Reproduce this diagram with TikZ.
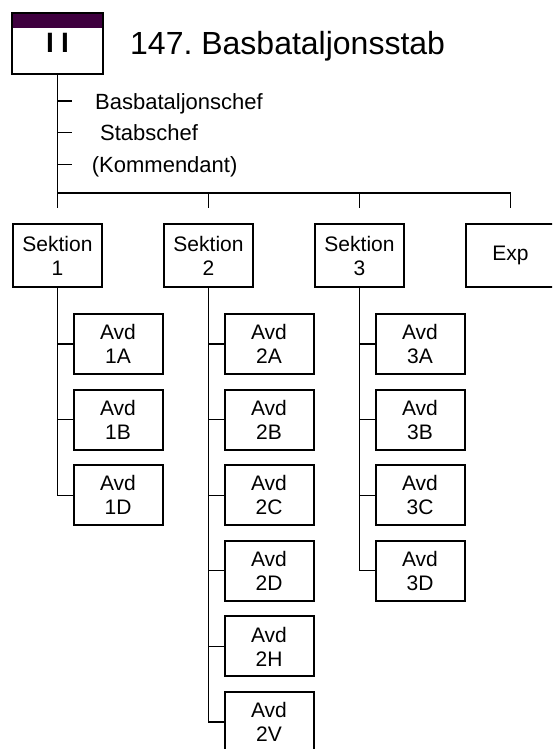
\documentclass[tikz,border=0pt]{standalone}
\usepackage{fontspec}
\setmainfont{Liberation Sans}
\frenchspacing
\usetikzlibrary{positioning,calc}
\definecolor{bandpurple}{HTML}{3F003F}
\tikzset{
  unitbox/.style  = {draw=black, line width=2pt, fill=white, align=center,
                     minimum width=89pt, minimum height=63pt, inner sep=0pt,
                     font=\fontsize{21}{24}\selectfont},
  avdbox/.style   = {unitbox, minimum height=60pt},
  link/.style     = {draw=black, line width=1.3pt},
  rolelabel/.style= {anchor=base west, inner sep=0pt, font=\fontsize{22}{24}\selectfont},
}
\begin{document}
\begin{tikzpicture}[x=1pt,y=-1pt]
  \useasboundingbox (0,0) rectangle (552,749);
  \clip (0,0) rectangle (552,749);
  % staff symbol and title
  \node[draw=black, line width=2pt, fill=white, anchor=north west,
        minimum width=91pt, minimum height=61pt, inner sep=0pt,
        path picture={\fill[bandpurple] (path picture bounding box.north west)
          rectangle ([yshift=-15pt]path picture bounding box.north east);}] (hq) at (11,12) {};
  \node[inner sep=0pt, font=\bfseries\fontsize{28}{28}\selectfont] (hqmark) at (57.5,42.5) {I\hspace{7pt}I};
  \node[anchor=base west, inner sep=0pt, font=\fontsize{32}{32}\selectfont] (title) at (130,54.3) {147. Basbataljonsstab};
  \coordinate (spine) at (57.5,193);
  \draw[link] (hq.south -| spine) -- (spine);
  % staff roles
  \foreach \ty/\tx/\by/\name/\txt in {101/95/110/chef/Basbataljonschef,
      132.7/100/140/stab/Stabschef, 164.3/91.7/172/kmd/(Kommendant)} {
    \coordinate (tick\name) at (72,\ty);
    \draw[link] (spine |- tick\name) -- (tick\name);
    \node[rolelabel] (role\name) at (\tx,\by) {\txt};
  }
  % sections
  \node[unitbox] (sek1) at (57.5,255.5) {Sektion\\1};
  \node[unitbox] (sek2) at (208.5,255.5) {Sektion\\2};
  \node[unitbox] (sek3) at (359.5,255.5) {Sektion\\3};
  \node[unitbox] (exp) at (510.5,255.5) {Exp};
  \draw[link] (spine) -- (spine -| exp.north) -- ([yshift=15pt]exp.north);
  \foreach \s in {1,2,3}
    \draw[link] (spine -| sek\s.north) -- ([yshift=15pt]sek\s.north);
  % departments
  \foreach \s/\list in {1/{A,B,D}, 2/{A,B,C,D,H,V}, 3/{A,B,C,D}} {
    \foreach \a [count=\i from 0] in \list {
      \node[avdbox, anchor=west] (avd\s\a) at ($(sek\s.center)+(15,88.5+75.6*\i)$) {Avd\\\s\a};
      \draw[link] (sek\s.south) |- (avd\s\a.west);
    }
  }
\end{tikzpicture}
\end{document}
